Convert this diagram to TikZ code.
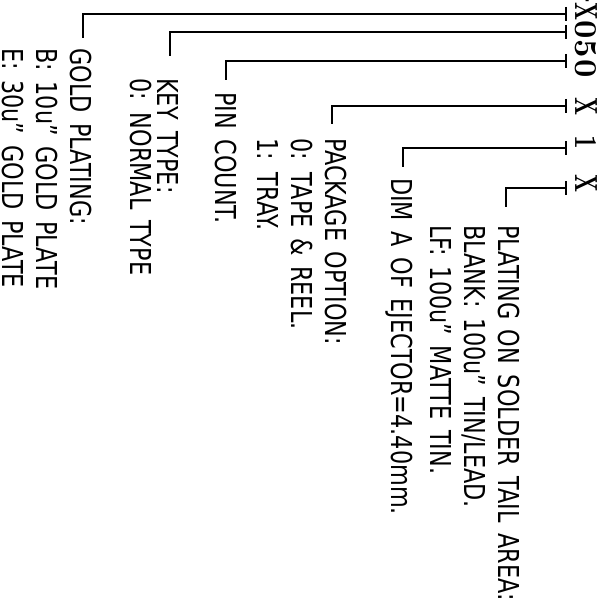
\documentclass[tikz,border=0pt]{standalone}
\usepackage{fontspec}
\newfontfamily\lbfont{DejaVu Sans}[FakeStretch=0.775,WordSpace=1.5]
\newfontfamily\hdrfont{lmroman10-bold}[Extension=.otf]
\begin{document}
\begin{tikzpicture}[x=1pt,y=-1pt,
  lead/.style={line width=1.8pt},
  lbl/.style={rotate=-90,anchor=north west,inner sep=0pt,align=left,
    font=\lbfont\fontsize{28.8}{34}\selectfont},
  lblk/.style={lbl,font=\lbfont\fontsize{28.8}{27}\selectfont},
  hdr/.style={rotate=-90,anchor=base west,inner sep=0pt,
    font=\hdrfont\fontsize{32}{36}\selectfont}]
\useasboundingbox (0,0) rectangle (601,607);
\clip (0,0) rectangle (601,607);
% header
\node[hdr,anchor=base east] (h0) at (575,4) {\raisebox{5pt}{-}};
\node[hdr] (h1) at (575,2) {\scalebox{0.65}[1]{X}};
\node[hdr] (h2) at (575,20) {0};
\node[hdr] (h3) at (575,39) {5};
\node[hdr] (h4) at (575,59) {0};
\node[hdr] (h5) at (575,97) {\scalebox{0.65}[1]{X}};
\node[hdr] (h6) at (575,135) {\scalebox{0.75}[1]{1}};
\node[hdr] (h7) at (575,174) {\scalebox{0.65}[1]{X}};
% labels
\node[lbl] (gold) at (92,48) {GOLD PLATING:\\B: 10u” GOLD PLATE\\E: 30u” GOLD PLATE};
\node[lblk] (key) at (179,78) {KEY TYPE:\\0: NORMAL TYPE};
\node[lbl] (pin) at (237,92) {PIN COUNT.};
\node[lbl] (pack) at (347,138) {PACKAGE OPTION:\\0: TAPE \& REEL.\\1: TRAY.};
\node[lbl] (dim) at (413,178) {DIM A OF EJECTOR=4.40mm.};
\node[lbl] (plat) at (520,225) {PLATING ON SOLDER TAIL AREA:\\BLANK: 100u” TIN/LEAD.\\LF: 100u” MATTE TIN.};
% leader points
\coordinate (t1) at (566,14);  \coordinate (e1) at (83,38);
\coordinate (t2) at (566,32);  \coordinate (e2) at (170,56);
\coordinate (t3) at (566,61);  \coordinate (e3) at (226,80);
\coordinate (t4) at (566,106); \coordinate (e4) at (332,124);
\coordinate (t5) at (566,148); \coordinate (e5) at (403,167);
\coordinate (t6) at (566,188); \coordinate (e6) at (506,207);
\foreach \i in {1,...,6}{
  \draw[lead] (t\i) -| (e\i);
  \draw[lead] ([yshift=7pt]t\i) -- ([yshift=-7pt]t\i);
}
\end{tikzpicture}
\end{document}
